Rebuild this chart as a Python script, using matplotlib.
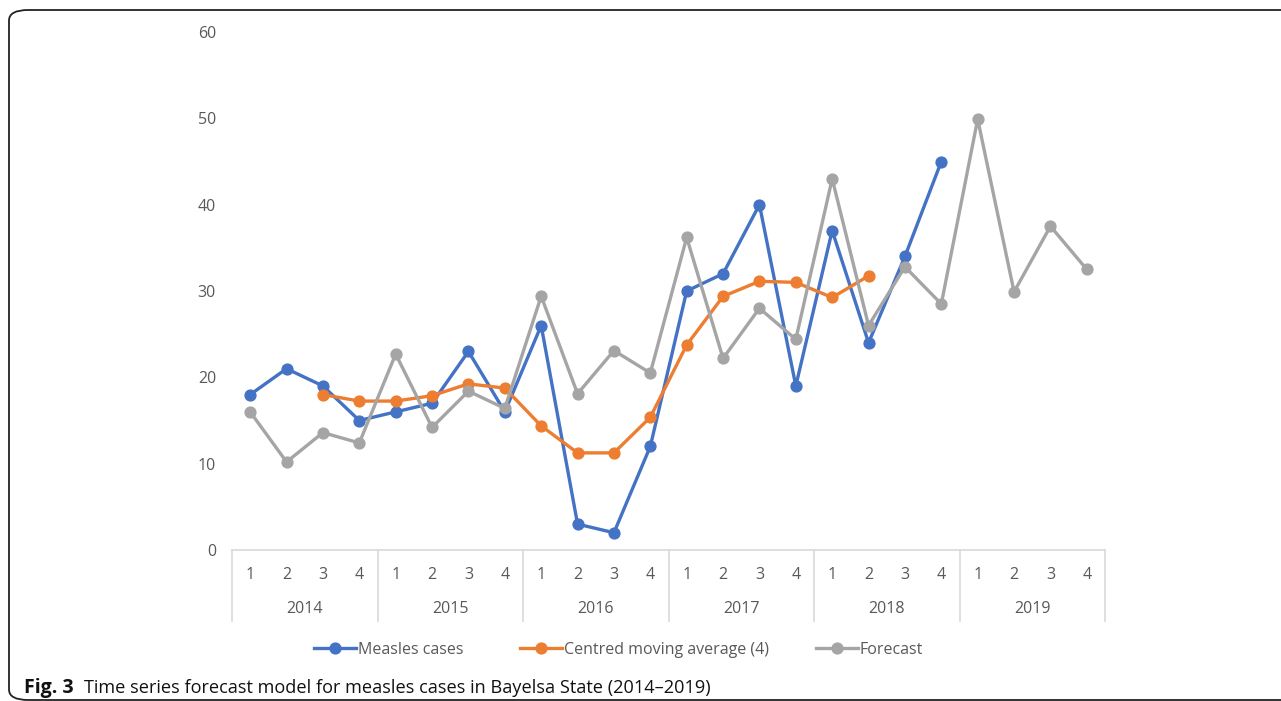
import matplotlib
matplotlib.use("Agg")
import matplotlib.pyplot as plt
from matplotlib.lines import Line2D
from matplotlib.patches import FancyBboxPatch
import matplotlib.transforms as mtransforms

plt.rcParams['font.family'] = ['Open Sans', 'DejaVu Sans']

years = ["2014", "2015", "2016", "2017", "2018", "2019"]
quarters = ["1", "2", "3", "4"]

measles = [18, 21, 19, 15, 16, 17, 23, 16, 26, 3, 2, 12,
           30, 32, 40, 19, 37, 24, 34, 45]
cma = [None, None, 18.0, 17.25, 17.25, 17.875, 19.25, 18.75, 14.375, 11.25,
       11.25, 15.375, 23.75, 29.375, 31.125, 31.0, 29.25, 31.75]
forecast = [16.0, 10.2, 13.6, 12.4, 22.7, 14.2, 18.4, 16.4, 29.4, 18.1, 23.1, 20.5,
            36.2, 22.2, 28.0, 24.4, 43.0, 26.0, 32.8, 28.5, 49.9, 29.9, 37.5, 32.5]

series_names = ["Measles cases", "Centred moving average (4)", "Forecast"]
colors = ["#4472C4", "#ED7D31", "#A5A5A5"]

W, H = 1281, 701
fig = plt.figure(figsize=(W / 100, H / 100), dpi=100)

# rounded frame
frame = FancyBboxPatch((9 / W, 1 - 700 / H), (1400 - 9) / W, (700 - 10) / H,
                       boxstyle="round,pad=0,rounding_size=0.015",
                       transform=fig.transFigure, fill=False, edgecolor="#222222",
                       linewidth=1.3, clip_on=False)
fig.patches.append(frame)

ax = fig.add_axes([232 / W, 1 - 550 / H, (1105 - 232) / W, (550 - 32) / H])

n = len(years) * len(quarters)
xs = list(range(n))
lw = 2.4
ms = 7.8
lines = []
lines += ax.plot(xs[:len(measles)], measles, color=colors[0], lw=lw, marker="o", ms=ms,
                 solid_joinstyle="round", zorder=3)
cma_x = [i for i, v in enumerate(cma) if v is not None]
cma_y = [v for v in cma if v is not None]
lines += ax.plot(cma_x, cma_y, color=colors[1], lw=lw, marker="o", ms=ms,
                 solid_joinstyle="round", zorder=4)
lines += ax.plot(xs, forecast, color=colors[2], lw=lw, marker="o", ms=ms,
                 solid_joinstyle="round", zorder=5)

ax.set_xlim(-0.5, n - 0.5)
ax.set_ylim(0, 60)
ax.set_yticks(range(0, 61, 10))
ax.tick_params(axis="y", length=0, pad=11.5, labelsize=11.5, labelcolor="#595959")
ax.set_xticks(xs)
ax.set_xticklabels(quarters * len(years))
ax.tick_params(axis="x", length=0, pad=12, labelsize=11.5, labelcolor="#595959")

for s in ["top", "right", "left"]:
    ax.spines[s].set_visible(False)
ax.spines["bottom"].set_color("#D9D9D9")
ax.spines["bottom"].set_linewidth(1.2)

trans = mtransforms.blended_transform_factory(ax.transData, ax.transAxes)
sep_bottom = -(621 - 550) / (550 - 32)
for g in range(len(years) + 1):
    xb = g * 4 - 0.5
    ax.add_line(Line2D([xb, xb], [0, sep_bottom], transform=trans, color="#D9D9D9",
                       lw=1.2, clip_on=False))
year_y = -(609 - 550) / (550 - 32)
for g, yr in enumerate(years):
    ax.text(g * 4 + 1.5, year_y, yr, transform=trans, ha="center", va="center",
            fontsize=11.5, color="#595959")

# legend entries, one per series, placed where the reference has them
legend_x = [314, 520, 816]
for line, name, lx in zip(lines, series_names, legend_x):
    fig.legend([line], [name], loc="center left",
               bbox_to_anchor=(lx / W, 1 - 650 / H), frameon=False,
               fontsize=11.5, handlelength=2.6, handletextpad=0.15,
               borderpad=0, borderaxespad=0, labelcolor="#595959")

fig.text(24 / W, 1 - 688 / H, "Fig. 3", fontsize=14, fontweight="bold",
         color="#111111", va="center", ha="left")
fig.text(84 / W, 1 - 688 / H, "Time series forecast model for measles cases in Bayelsa State (2014\u20132019)",
         fontsize=13.1, color="#111111", va="center", ha="left")

fig.savefig("out.png", dpi=100)
